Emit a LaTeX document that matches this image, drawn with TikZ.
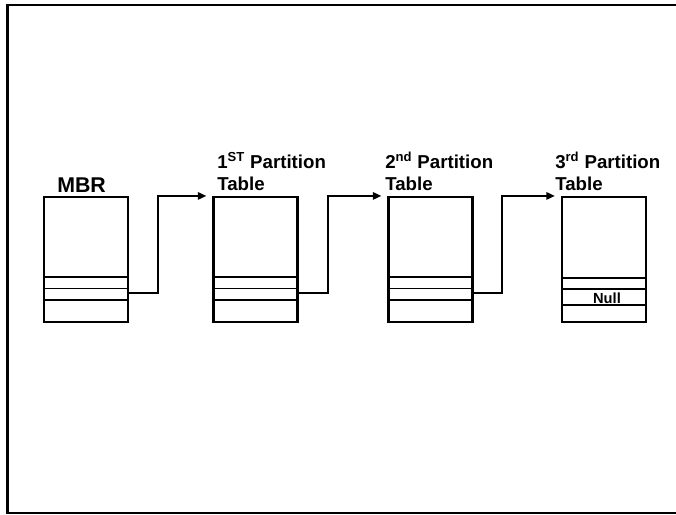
\documentclass[tikz,border=0pt]{standalone}
\usepackage{fontspec}
\setmainfont{Liberation Sans}
\usetikzlibrary{arrows.meta}
\begin{document}
\begin{tikzpicture}[x=0.75pt,y=-0.75pt,
  tablebox/.style={draw,line width=1.6pt,rectangle,inner sep=0pt,minimum width=63pt,minimum height=93.75pt},
  rowline/.style={line width=1pt},
  link/.style={line width=1.6pt,-{Triangle[length=6.5pt,width=5.5pt]}},
  title/.style={inner sep=0pt,anchor=base west,align=left,font=\fontsize{14}{16.5}\selectfont\bfseries},
  frame/.style={line width=1.6pt}]
\useasboundingbox (0,0) rectangle (676,515);
\draw[frame] (680,5) -- (7.5,5) -- (7.5,513) -- (680,513);

\node[tablebox] (b1) at (85.75,259.5) {};
\node[tablebox] (b2) at (255.5,259.5) {};
\node[tablebox] (b3) at (430.5,259.5) {};
\node[tablebox] (b4) at (604,259.5) {};

\foreach \b in {b1,b2,b3}{
  \foreach \o in {34.5,25.9,17.25}{
    \draw[rowline] ([yshift=\o pt]\b.south west) -- ([yshift=\o pt]\b.south east);
  }
}
\foreach \o in {33.75,25.5,13.5}{
  \draw[rowline] ([yshift=\o pt]b4.south west) -- ([yshift=\o pt]b4.south east);
}
\node[inner sep=0pt,anchor=base,font=\fontsize{11}{13}\selectfont\bfseries] (null) at (607,303) {Null};

\node[title,font=\fontsize{16}{19}\selectfont\bfseries] (t1) at (57,192) {MBR};
\node[title] (t2) at (217,190) {1\textsuperscript{ST} Partition\\Table};
\node[title] (t3) at (385,190) {2\textsuperscript{nd} Partition\\Table};
\node[title] (t4) at (555,190) {3\textsuperscript{rd} Partition\\Table};

\coordinate (row) at (0,293);
\draw[link] (b1.east |- row) -- ++(29,0) |- ([xshift=-4.5pt]b2.north west);
\draw[link] (b2.east |- row) -- ++(29,0) |- ([xshift=-4.5pt]b3.north west);
\draw[link] (b3.east |- row) -- ++(28,0) |- ([xshift=-4.5pt]b4.north west);
\end{tikzpicture}
\end{document}
